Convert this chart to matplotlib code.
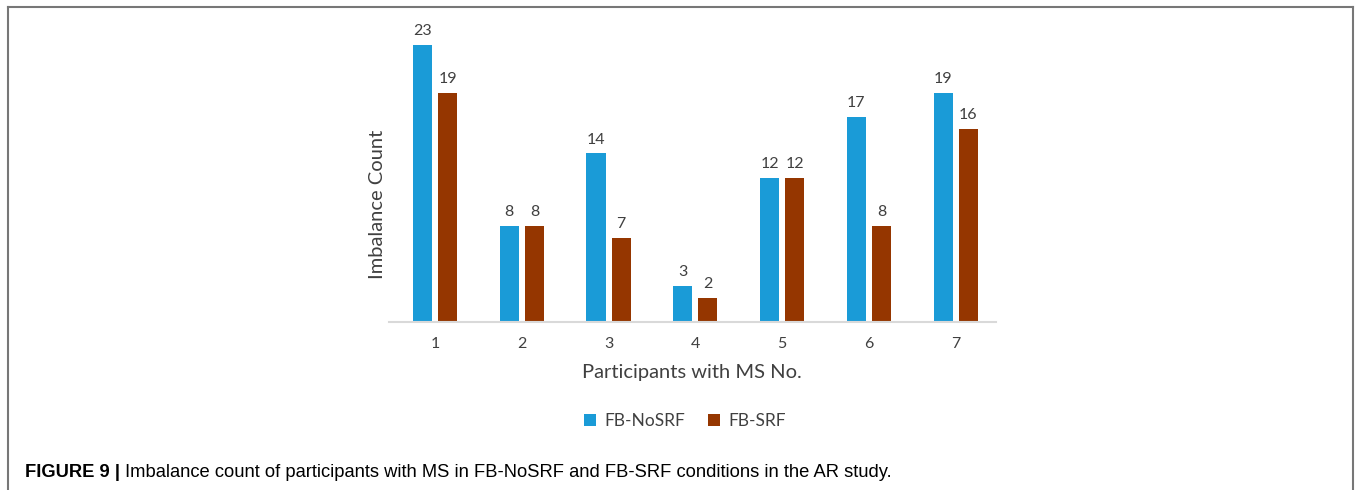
import matplotlib.pyplot as plt
import numpy as np
from matplotlib.lines import Line2D

# data
participants = ['1', '2', '3', '4', '5', '6', '7']
fb_nosrf = [23, 8, 14, 3, 12, 17, 19]
fb_srf = [19, 8, 7, 2, 12, 8, 16]

blue = '#1a9bd7'
brown = '#953600'
text_col = '#404040'

plt.rcParams['font.family'] = ['Lato', 'DejaVu Sans']

fig = plt.figure(figsize=(13.56, 4.90), dpi=100)
ax = fig.add_axes([0.2866, 0.3429, 0.4479, 0.6141])

x = np.arange(len(participants))
w = 0.22
off = 0.145
b1 = ax.bar(x - off, fb_nosrf, w, color=blue, label='FB-NoSRF')
b2 = ax.bar(x + off, fb_srf, w, color=brown, label='FB-SRF')

for bars in (b1, b2):
    for r in bars:
        ax.annotate(str(int(r.get_height())), (r.get_x() + r.get_width() / 2, r.get_height()),
                    xytext=(0, 5), textcoords='offset points', ha='center', va='bottom',
                    fontsize=11.5, color=text_col)

ax.set_xlim(-0.535, len(participants) - 0.535)
ax.set_ylim(0, 25)
ax.set_xticks(x)
ax.set_xticklabels(participants, fontsize=11.5, color=text_col)
ax.set_yticks([])
ax.tick_params(axis='x', length=0, pad=11)
for s in ['top', 'right', 'left']:
    ax.spines[s].set_visible(False)
ax.spines['bottom'].set_color('#d9d9d9')
ax.spines['bottom'].set_linewidth(1.5)

ax.set_xlabel('Participants with MS No.', fontsize=14.5, color=text_col, labelpad=9)
ax.set_ylabel('Imbalance Count', fontsize=14.5, color=text_col, labelpad=0)
ax.yaxis.set_label_coords(-0.004, 0.39)

fig.legend(handles=[b1, b2], loc='center', bbox_to_anchor=(0.505, 0.141), ncol=2,
           frameon=False, fontsize=12.5, handlelength=0.7, handleheight=0.7,
           handletextpad=0.5, columnspacing=1.3, labelcolor=text_col)

# outer frame around the figure panel
frame = dict(color='#777777', lw=1.5, transform=fig.transFigure)
fig.add_artist(Line2D([8 / 1356, 1353 / 1356], [1 - 7 / 490, 1 - 7 / 490], **frame))
fig.add_artist(Line2D([8 / 1356, 8 / 1356], [0, 1 - 7 / 490], **frame))
fig.add_artist(Line2D([1353 / 1356, 1353 / 1356], [0, 1 - 7 / 490], **frame))

cap_font = ['Liberation Sans Narrow', 'Liberation Sans', 'DejaVu Sans']
t = fig.text(25 / 1356, 1 - 472 / 490, 'FIGURE 9 |', fontsize=13.2, fontweight='bold',
             family=cap_font, va='center', ha='left')
fig.canvas.draw()
bb = t.get_window_extent()
fig.text((bb.x1 + 5) / 1356, 1 - 472 / 490,
         'Imbalance count of participants with MS in FB-NoSRF and FB-SRF conditions in the AR study.',
         fontsize=13.2, family=cap_font, va='center', ha='left')

fig.savefig('out.png', dpi=100)
